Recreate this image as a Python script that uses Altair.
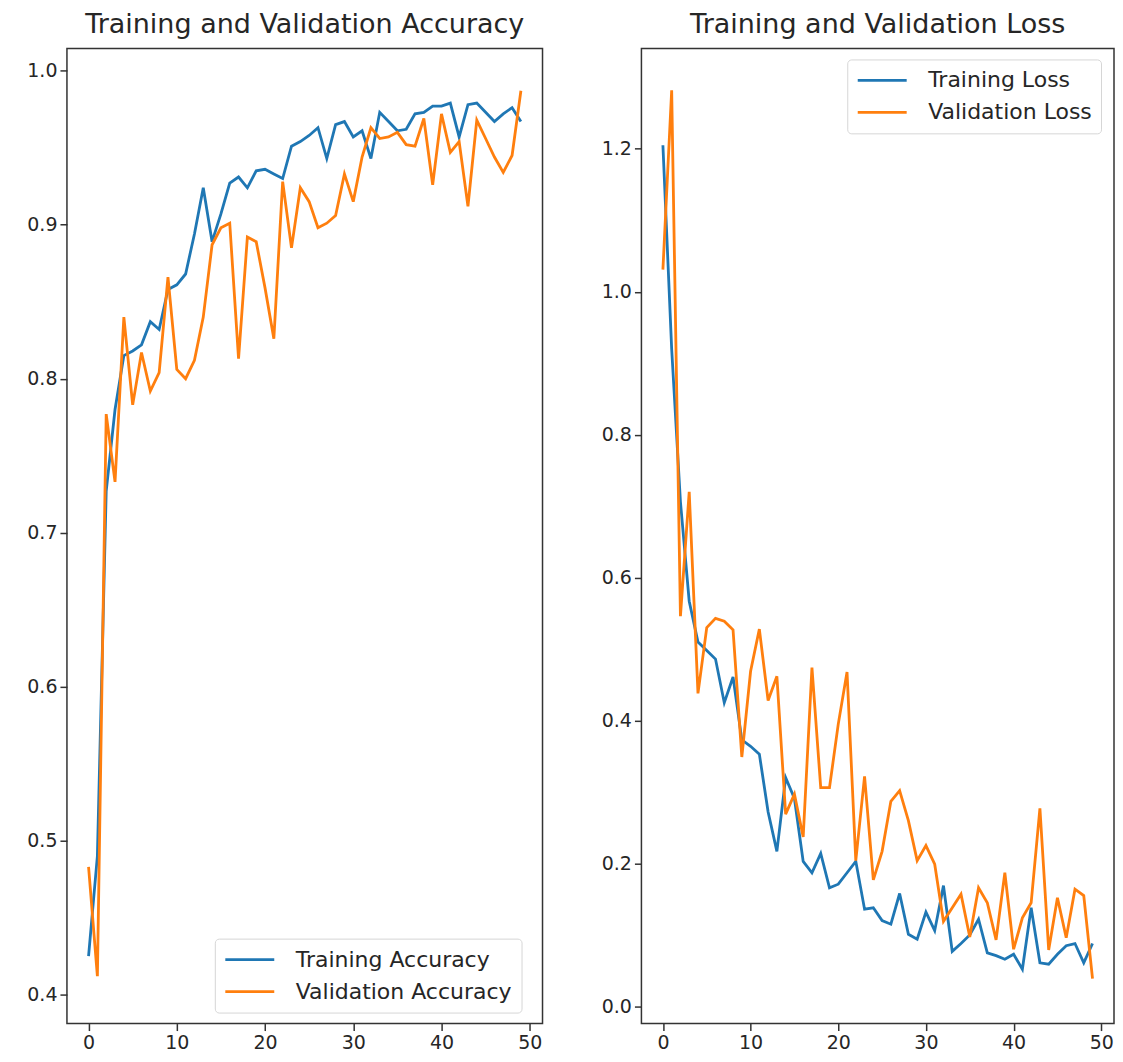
import altair as alt
import pandas as pd

epochs = list(range(50))

acc_train = [0.425, 0.49, 0.727, 0.78, 0.815, 0.818, 0.822, 0.837, 0.832, 0.858,
             0.861, 0.868, 0.894, 0.924, 0.889, 0.907, 0.927, 0.931, 0.924, 0.935,
             0.936, 0.933, 0.930, 0.951, 0.954, 0.958, 0.963, 0.943, 0.965, 0.967,
             0.957, 0.961, 0.943, 0.973, 0.967, 0.961, 0.962, 0.972, 0.973, 0.977,
             0.977, 0.979, 0.957, 0.978, 0.979, 0.973, 0.967, 0.972, 0.976, 0.967]

acc_val = [0.483, 0.412, 0.777, 0.733, 0.840, 0.783, 0.817, 0.792, 0.804, 0.866,
           0.806, 0.800, 0.812, 0.840, 0.887, 0.898, 0.901, 0.813, 0.892, 0.889,
           0.859, 0.826, 0.928, 0.885, 0.924, 0.915, 0.898, 0.901, 0.906, 0.933,
           0.915, 0.944, 0.963, 0.956, 0.957, 0.960, 0.952, 0.951, 0.969, 0.926,
           0.972, 0.947, 0.954, 0.912, 0.968, 0.956, 0.944, 0.934, 0.945, 0.987]

loss_train = [1.205, 0.92, 0.706, 0.567, 0.510, 0.498, 0.486, 0.425, 0.461, 0.373,
              0.364, 0.353, 0.272, 0.217, 0.320, 0.291, 0.203, 0.187, 0.214, 0.166,
              0.171, 0.187, 0.203, 0.136, 0.138, 0.120, 0.115, 0.158, 0.101, 0.094,
              0.132, 0.106, 0.169, 0.077, 0.088, 0.100, 0.122, 0.075, 0.071, 0.066,
              0.073, 0.052, 0.138, 0.061, 0.059, 0.073, 0.085, 0.088, 0.061, 0.088]

loss_val = [1.031, 1.282, 0.546, 0.720, 0.438, 0.530, 0.543, 0.539, 0.527, 0.349,
            0.469, 0.528, 0.428, 0.462, 0.269, 0.297, 0.237, 0.474, 0.306, 0.306,
            0.395, 0.468, 0.204, 0.322, 0.177, 0.217, 0.287, 0.302, 0.260, 0.204,
            0.225, 0.199, 0.119, 0.138, 0.157, 0.097, 0.166, 0.145, 0.093, 0.187,
            0.080, 0.124, 0.145, 0.277, 0.079, 0.152, 0.096, 0.164, 0.155, 0.039]

acc_labels = ["Training Accuracy", "Validation Accuracy"]
loss_labels = ["Training Loss", "Validation Loss"]
x_ticks = [0, 10, 20, 30, 40, 50]
acc_ticks = [0.4, 0.5, 0.6, 0.7, 0.8, 0.9, 1.0]
loss_ticks = [0.0, 0.2, 0.4, 0.6, 0.8, 1.0, 1.2]
colors = ["#1f77b4", "#ff7f0e"]

acc_df = pd.DataFrame({
    "epoch": epochs + epochs,
    "value": acc_train + acc_val,
    "series": [acc_labels[0]] * 50 + [acc_labels[1]] * 50,
})
loss_df = pd.DataFrame({
    "epoch": epochs + epochs,
    "value": loss_train + loss_val,
    "series": [loss_labels[0]] * 50 + [loss_labels[1]] * 50,
})

FONT = "DejaVu Sans"
TXT = "#262626"


def panel(df, title, ydom, yticks, labels, lx, ly, width, extent):
    return alt.Chart(
        df,
        title=alt.Title(title, fontSize=27, font=FONT, fontWeight="normal",
                        color=TXT, offset=9, anchor="middle"),
    ).mark_line(strokeWidth=2.8).encode(
        x=alt.X("epoch:Q",
                scale=alt.Scale(domain=[-2.45, 51.45], nice=False, zero=False),
                axis=alt.Axis(values=x_ticks, title=None, format="d")),
        y=alt.Y("value:Q",
                scale=alt.Scale(domain=ydom, nice=False, zero=False),
                axis=alt.Axis(values=yticks, title=None, format=".1f",
                              minExtent=extent, maxExtent=extent)),
        color=alt.Color("series:N",
                        scale=alt.Scale(domain=labels, range=colors),
                        legend=alt.Legend(
                            title=None, orient="none", legendX=lx, legendY=ly,
                            symbolType="stroke", symbolSize=2400,
                            symbolStrokeWidth=2.8, labelFontSize=22,
                            labelFont=FONT, labelColor=TXT, labelOffset=20,
                            labelLimit=400, clipHeight=24,
                            strokeColor="#d6d6d6", fillColor="white",
                            cornerRadius=4, padding=9, rowPadding=8)),
        detail="series:N",
    ).properties(width=width, height=976)


left = panel(acc_df, "Training and Validation Accuracy", [0.3812, 1.0145],
             acc_ticks, acc_labels, 148, 891, 476, 58)
right = panel(loss_df, "Training and Validation Loss", [-0.024, 1.3405],
              loss_ticks, loss_labels, 206, 11, 473, 40)

chart = alt.hconcat(left, right, spacing=57).resolve_scale(
    color="independent"
).resolve_legend(color="independent").properties(
    padding={"left": 0, "top": 2, "right": 0, "bottom": 0},
    background="white",
).configure_view(
    stroke="#333333", strokeWidth=1.5
).configure_axis(
    grid=False, domain=False, ticks=True, tickColor="#333333", tickWidth=1.5,
    tickSize=7, labelFont=FONT, labelFontSize=19, labelColor=TXT,
    labelPadding=3,
)

chart.save("out.html", embed_options={"renderer": "svg", "actions": False})
